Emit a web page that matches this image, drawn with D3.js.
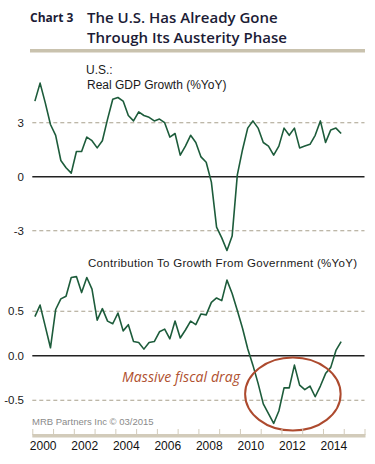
<!DOCTYPE html>
<html>
<head>
<meta charset="utf-8">
<script src="https://cdn.jsdelivr.net/npm/d3@7"></script>
<style>
  body { margin: 0; background: #fff; }
  svg { display: block; }
</style>
</head>
<body>
<svg id="chart" width="375" height="464"></svg>
<script>
// quarterly, 2000Q1 .. 2014Q4
const startYear = 2000
const gdpGrowth = [
  4.2, 5.2, 4.1, 2.9, 2.3, 0.9, 0.5, 0.2,
  1.4, 1.4, 2.2, 2.0, 1.6, 2.0, 3.2, 4.3,
  4.4, 4.2, 3.4, 3.1, 3.6, 3.4, 3.3, 3.1,
  3.2, 3.0, 2.2, 2.4, 1.2, 1.7, 2.3, 1.9,
  1.1, 0.8, -0.3, -2.8, -3.4, -4.1, -3.3, 0.1,
  1.5, 2.7, 3.1, 2.7, 1.9, 1.7, 1.2, 1.7,
  2.7, 2.3, 2.7, 1.6, 1.7, 1.8, 2.3, 3.1,
  1.9, 2.6, 2.7, 2.4
]
const govContribution = [
  0.44, 0.57, 0.33, 0.09, 0.52, 0.64, 0.67, 0.88,
  0.89, 0.71, 0.88, 0.75, 0.40, 0.53, 0.39, 0.36,
  0.48, 0.28, 0.35, 0.16, 0.15, 0.075, 0.15, 0.16,
  0.27, 0.30, 0.19, 0.39, 0.20, 0.29, 0.39, 0.35,
  0.47, 0.46, 0.60, 0.65, 0.62, 0.85, 0.70, 0.51,
  0.31, 0.08, -0.105, -0.31, -0.54, -0.65, -0.76, -0.62,
  -0.36, -0.36, -0.105, -0.33, -0.38, -0.34, -0.46, -0.34,
  -0.2, -0.13, 0.06, 0.16
]
const gdpTicks = [-3, 0, 3]
const govTicks = [-0.5, 0, 0.5]
const yearLabels = [2000, 2002, 2004, 2006, 2008, 2010, 2012, 2014]
const yearTicks = d3.range(2000, 2017)

const t = (i) => startYear + (i + 0.5) / 4

const svg = d3.select('#chart')
const font = 'Arial, "Liberation Sans", sans-serif'
const lineColor = '#1d5c3b'

const x = d3.scaleLinear().domain([2000, 2016]).range([32.3, 364.5])
const yTop = d3.scaleLinear().domain([-3, 3]).range([230.7, 122.7])
const yBot = d3.scaleLinear().domain([-0.5, 0.5]).range([400.3, 311.3])

// header
svg.append('text').attr('x', 30).attr('y', 22).attr('font-family', '"Open Sans", sans-serif').attr('font-weight', 700)
  .attr('font-size', '12px').attr('fill', '#1c1c36').text('Chart 3')
svg.append('text').attr('x', 87).attr('y', 23).attr('font-family', '"Open Sans", sans-serif').attr('font-weight', 600)
  .attr('font-size', '15px').attr('fill', '#1c1c36').text('The U.S. Has Already Gone')
svg.append('text').attr('x', 87).attr('y', 42.5).attr('font-family', '"Open Sans", sans-serif').attr('font-weight', 600)
  .attr('font-size', '15px').attr('fill', '#1c1c36').text('Through Its Austerity Phase')
svg.append('rect').attr('x', 30).attr('y', 49).attr('width', 335).attr('height', 3.5).attr('fill', '#c9c2ae')

function panel(y, ticks, values, fmt) {
  const g = svg.append('g')
  g.selectAll('.grid')
    .data(ticks)
    .join('line')
    .attr('x1', x(2000))
    .attr('x2', x(2016))
    .attr('y1', (d) => y(d))
    .attr('y2', (d) => y(d))
    .attr('stroke', (d) => (d === 0 ? '#222' : '#a8a08c'))
    .attr('stroke-width', (d) => (d === 0 ? 1.4 : 1.1))
    .attr('stroke-dasharray', (d) => (d === 0 ? null : '4,3'))

  const axis = g.append('g').attr('transform', 'translate(24,0)')
    .call(d3.axisLeft(y).tickValues(ticks).tickSize(0).tickPadding(0).tickFormat(fmt))
  axis.select('.domain').remove()
  axis.selectAll('text').attr('font-family', font).attr('font-size', '11.5px').attr('fill', '#1a1a1a')

  g.append('path')
    .datum(values)
    .attr('fill', 'none')
    .attr('stroke', lineColor)
    .attr('stroke-width', 1.6)
    .attr('stroke-linejoin', 'round')
    .attr('d', d3.line().x((d, i) => x(t(i))).y((d) => y(d)))
  return g
}

panel(yTop, gdpTicks, gdpGrowth, (d) => String(d))
panel(yBot, govTicks, govContribution, (d) => (d < 0 ? '-' : '') + Math.abs(d).toFixed(1))

// panel labels
svg.append('text').attr('x', 86).attr('y', 74).attr('font-family', font).attr('font-size', '12px').attr('fill', '#1a1a1a').text('U.S.:')
svg.append('text').attr('x', 87).attr('y', 89).attr('font-family', font).attr('font-size', '12px').attr('fill', '#1a1a1a').text('Real GDP Growth (%YoY)')
svg.append('text').attr('x', 88).attr('y', 267).attr('font-family', font).attr('font-size', '11.5px').attr('fill', '#1a1a1a')
  .attr('textLength', 269).text('Contribution To Growth From Government (%YoY)')

// annotation
svg.append('ellipse')
  .attr('cx', x(2012.55))
  .attr('cy', yBot(-0.43))
  .attr('rx', x(2002.3) - x(2000))
  .attr('ry', yBot(-0.41) - yBot(0))
  .attr('fill', 'none')
  .attr('stroke', '#ad4a2e')
  .attr('stroke-width', 2)
svg.append('text').attr('x', 122).attr('y', 382).attr('font-family', '"Open Sans", sans-serif').attr('font-style', 'italic')
  .attr('font-size', '14px').attr('fill', '#b0502f').attr('textLength', 118).text('Massive fiscal drag')

svg.append('text').attr('x', 32).attr('y', 425).attr('font-family', font).attr('font-size', '9.5px').attr('fill', '#8a8a8a')
  .text('MRB Partners Inc \u00a9 03/2015')

// x axis
const xAxis = svg.append('g').attr('transform', 'translate(0,435)')
  .call(d3.axisTop(x).tickValues(yearTicks).tickSize(6).tickFormat(''))
xAxis.select('.domain').remove()
xAxis.selectAll('line').attr('stroke', '#d2cbba')
svg.append('rect').attr('x', x(2000)).attr('y', 434).attr('width', x(2016) - x(2000) + 1).attr('height', 3.5).attr('fill', '#d2cbba')

const labels = svg.append('g').attr('transform', 'translate(0,441)')
  .call(d3.axisBottom(x).tickValues(yearLabels.map((d) => d + 0.5)).tickSize(0).tickPadding(0).tickFormat((d) => Math.floor(d)))
labels.select('.domain').remove()
labels.selectAll('text').attr('font-family', font).attr('font-size', '12px').attr('fill', '#111')
</script>
</body>
</html>
